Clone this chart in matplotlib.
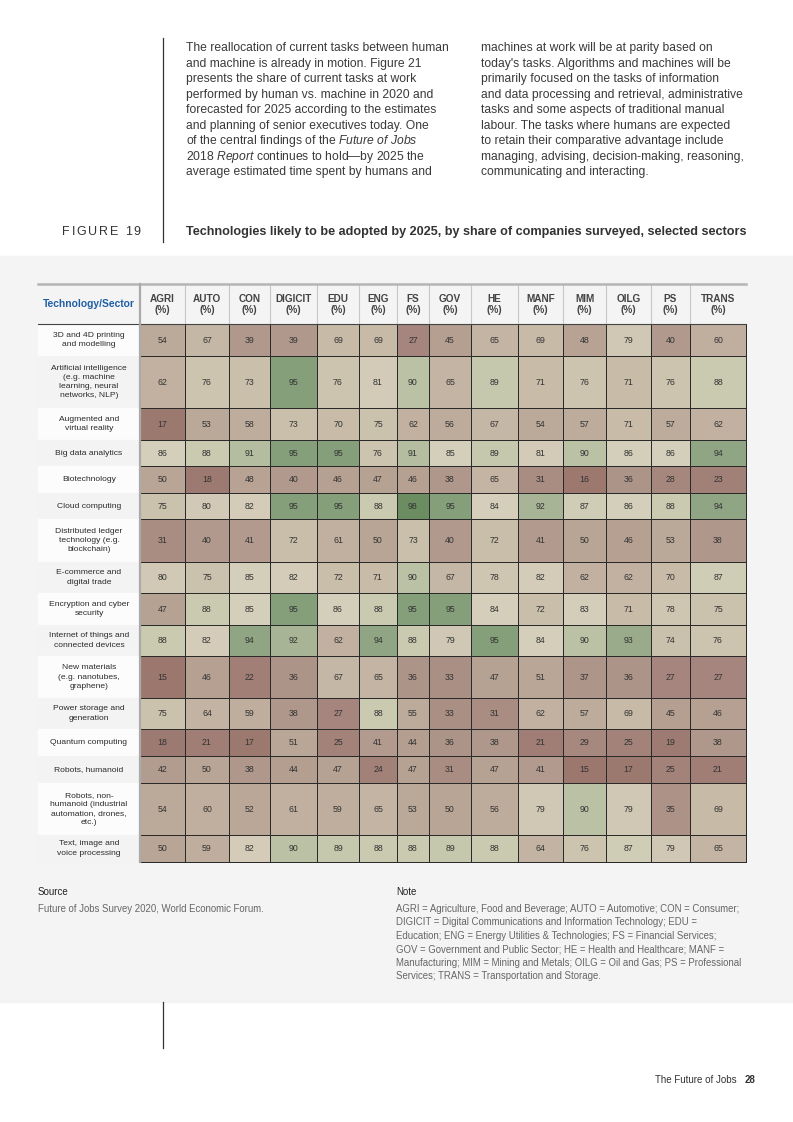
import numpy as np
import matplotlib
matplotlib.use("Agg")
import matplotlib.pyplot as plt
from matplotlib.colors import LinearSegmentedColormap, Normalize

plt.rcParams['font.family'] = ['Liberation Sans', 'DejaVu Sans']
plt.rcParams['mathtext.fontset'] = 'custom'
plt.rcParams['mathtext.rm'] = 'Liberation Sans'
plt.rcParams['mathtext.it'] = 'Liberation Sans:italic'

# ---------------- data ----------------
sectors = ["AGRI", "AUTO", "CON", "DIGICIT", "EDU", "ENG", "FS", "GOV",
           "HE", "MANF", "MIM", "OILG", "PS", "TRANS"]
technologies = [
    "3D and 4D printing\nand modelling",
    "Artificial intelligence\n(e.g. machine\nlearning, neural\nnetworks, NLP)",
    "Augmented and\nvirtual reality",
    "Big data analytics",
    "Biotechnology",
    "Cloud computing",
    "Distributed ledger\ntechnology (e.g.\nblockchain)",
    "E-commerce and\ndigital trade",
    "Encryption and cyber\nsecurity",
    "Internet of things and\nconnected devices",
    "New materials\n(e.g. nanotubes,\ngraphene)",
    "Power storage and\ngeneration",
    "Quantum computing",
    "Robots, humanoid",
    "Robots, non-\nhumanoid (industrial\nautomation, drones,\netc.)",
    "Text, image and\nvoice processing",
]
printing_3d = [54, 67, 39, 39, 69, 69, 27, 45, 65, 69, 48, 79, 40, 60]
artificial_intelligence = [62, 76, 73, 95, 76, 81, 90, 65, 89, 71, 76, 71, 76, 88]
augmented_reality = [17, 53, 58, 73, 70, 75, 62, 56, 67, 54, 57, 71, 57, 62]
big_data = [86, 88, 91, 95, 95, 76, 91, 85, 89, 81, 90, 86, 86, 94]
biotechnology = [50, 18, 48, 40, 46, 47, 46, 38, 65, 31, 16, 36, 28, 23]
cloud_computing = [75, 80, 82, 95, 95, 88, 98, 95, 84, 92, 87, 86, 88, 94]
distributed_ledger = [31, 40, 41, 72, 61, 50, 73, 40, 72, 41, 50, 46, 53, 38]
e_commerce = [80, 75, 85, 82, 72, 71, 90, 67, 78, 82, 62, 62, 70, 87]
encryption = [47, 88, 85, 95, 86, 88, 95, 95, 84, 72, 83, 71, 78, 75]
internet_of_things = [88, 82, 94, 92, 62, 94, 88, 79, 95, 84, 90, 93, 74, 76]
new_materials = [15, 46, 22, 36, 67, 65, 36, 33, 47, 51, 37, 36, 27, 27]
power_storage = [75, 64, 59, 38, 27, 88, 55, 33, 31, 62, 57, 69, 45, 46]
quantum_computing = [18, 21, 17, 51, 25, 41, 44, 36, 38, 21, 29, 25, 19, 38]
robots_humanoid = [42, 50, 38, 44, 47, 24, 47, 31, 47, 41, 15, 17, 25, 21]
robots_non_humanoid = [54, 60, 52, 61, 59, 65, 53, 50, 56, 79, 90, 79, 35, 69]
text_voice = [50, 59, 82, 90, 89, 88, 88, 89, 88, 64, 76, 87, 79, 65]

values = np.array([printing_3d, artificial_intelligence, augmented_reality, big_data,
                   biotechnology, cloud_computing, distributed_ledger, e_commerce,
                   encryption, internet_of_things, new_materials, power_storage,
                   quantum_computing, robots_humanoid, robots_non_humanoid, text_voice])

# ---------------- layout (pixels) ----------------
W, H = 793, 1122
col_widths = [45, 44, 41, 47, 42, 38, 32, 42, 47, 45, 43, 45, 39, 56]
row_heights = [32, 52, 32, 26, 27, 26, 43, 31, 32, 31, 42, 31, 27, 27, 52, 27]
tab_left, lab_right, head_top, head_bot = 38, 140, 284, 324
xedges = lab_right + np.concatenate([[0], np.cumsum(col_widths)])
yedges = head_bot + np.concatenate([[0], np.cumsum(row_heights)])

fig = plt.figure(figsize=(W / 100, H / 100), dpi=100)
ax = fig.add_axes([0, 0, 1, 1])
ax.set_xlim(0, W)
ax.set_ylim(H, 0)
ax.axis('off')
renderer = fig.canvas.get_renderer()

# grey panel
ax.add_patch(plt.Rectangle((0, 256), W, 746, color='#f4f4f4', zorder=0))

# vertical rules
ax.plot([163, 163], [38, 242], color='#333333', lw=0.9)
ax.plot([163, 163], [1002, 1048], color='#333333', lw=0.9)

# body text
col1 = [
    "The reallocation of current tasks between human",
    "and machine is already in motion. Figure 21",
    "presents the share of current tasks at work",
    "performed by human vs. machine in 2020 and",
    "forecasted for 2025 according to the estimates",
    "and planning of senior executives today. One",
    r"of the central findings of the $\it{Future\ of\ Jobs}$",
    r"$\it{2018\ Report}$ continues to hold—by 2025 the",
    "average estimated time spent by humans and",
]
col2 = [
    "machines at work will be at parity based on",
    "today's tasks. Algorithms and machines will be",
    "primarily focused on the tasks of information",
    "and data processing and retrieval, administrative",
    "tasks and some aspects of traditional manual",
    "labour. The tasks where humans are expected",
    "to retain their comparative advantage include",
    "managing, advising, decision-making, reasoning,",
    "communicating and interacting.",
]
for i, (a, b) in enumerate(zip(col1, col2)):
    y = 48 + i * 15.5
    ax.text(186, y, a, fontsize=8.75, color='#3a3a3a', va='center', ha='left')
    ax.text(481, y, b, fontsize=8.75, color='#3a3a3a', va='center', ha='left')

# tracked "FIGURE 19"
x = 62.0
for ch in "FIGURE 19":
    t = ax.text(x, 232, ch, fontsize=9, color='#333333', va='center', ha='left')
    bb = t.get_window_extent(renderer=renderer)
    x += bb.width + 1.8 if ch != ' ' else 3.0 + 1.8

ax.text(186, 232, "Technologies likely to be adopted by 2025, by share of companies surveyed, selected sectors",
        fontsize=9.14, fontweight='bold', color='#333333', va='center', ha='left')

# label column backgrounds
for i in range(len(technologies)):
    c = '#fcfcfc' if i % 2 == 0 else '#f3f3f3'
    ax.add_patch(plt.Rectangle((tab_left, yedges[i]), lab_right - tab_left,
                               yedges[i + 1] - yedges[i], color=c, zorder=1))
    ax.text((tab_left + lab_right) / 2, (yedges[i] + yedges[i + 1]) / 2, technologies[i],
            fontsize=6.1, color='#2b2b2b', ha='center', va='center', linespacing=1.45, zorder=3)

# heatmap
cmap = LinearSegmentedColormap.from_list("wef", [
    (0.00, '#98746a'), (0.15, '#9b776d'), (0.25, '#a3827a'), (0.40, '#b19a8d'),
    (0.55, '#bcaa9a'), (0.65, '#c4b4a3'), (0.75, '#cbc2ad'), (0.82, '#d4ccb8'),
    (0.86, '#d4d0bb'), (0.89, '#c6c8ae'), (0.91, '#b4bd9f'), (0.94, '#91a685'),
    (0.95, '#87a17c'), (0.98, '#6c8d62'), (1.00, '#628558')])
norm = Normalize(0, 100)
ax.pcolormesh(xedges, yedges, values, cmap=cmap, norm=norm,
              edgecolors='#2a2a2a', linewidth=0.45, zorder=2)
for i in range(values.shape[0]):
    for j in range(values.shape[1]):
        ax.text((xedges[j] + xedges[j + 1]) / 2, (yedges[i] + yedges[i + 1]) / 2,
                f"{values[i, j]}", fontsize=6.3, color='#333333', ha='center', va='center', zorder=3)

# header
ax.add_patch(plt.Rectangle((tab_left, head_top), xedges[-1] - tab_left, head_bot - head_top,
                           color='#f4f4f4', zorder=1))
ax.text((tab_left + lab_right) / 2, 304, "Technology/Sector", fontsize=7.4, fontweight='bold',
        color='#1f5fa6', ha='center', va='center', zorder=3)
for j, s in enumerate(sectors):
    xc = (xedges[j] + xedges[j + 1]) / 2
    ax.text(xc, 299, s, fontsize=7.2, fontweight='bold', color='#444444', ha='center', va='center', zorder=3)
    ax.text(xc, 309.5, "(%)", fontsize=7.2, fontweight='bold', color='#444444', ha='center', va='center', zorder=3)
for x in xedges[1:-1]:
    ax.plot([x, x], [head_top, head_bot], color='#c8c8c8', lw=0.8, zorder=3)
ax.plot([tab_left, xedges[-1]], [head_top, head_top], color='#b5b5b5', lw=1.8, zorder=3)
ax.plot([tab_left, xedges[-1]], [head_bot, head_bot], color='#444444', lw=0.8, zorder=3)
ax.plot([lab_right, lab_right], [head_top, yedges[-1]], color='#aaaaaa', lw=1.6, zorder=4)

# source / note
ax.text(38, 892, "Source", fontsize=7.0, color='#222222', va='center')
ax.text(38, 909, "Future of Jobs Survey 2020, World Economic Forum.", fontsize=6.95, color='#666666', va='center')
ax.text(396, 892, "Note", fontsize=7.0, color='#222222', va='center')
note = [
    "AGRI = Agriculture, Food and Beverage; AUTO = Automotive; CON = Consumer;",
    "DIGICIT = Digital Communications and Information Technology; EDU =",
    "Education; ENG = Energy Utilities & Technologies; FS = Financial Services;",
    "GOV = Government and Public Sector; HE = Health and Healthcare; MANF =",
    "Manufacturing; MIM = Mining and Metals; OILG = Oil and Gas; PS = Professional",
    "Services; TRANS = Transportation and Storage.",
]
for k, line in enumerate(note):
    ax.text(396, 909 + k * 13.4, line, fontsize=6.95, color='#666666', va='center')

# footer
ax.text(737, 1080, "The Future of Jobs", fontsize=7.0, color='#333333', va='center', ha='right')
ax.text(745, 1080, "28", fontsize=7.0, fontweight='bold', color='#333333', va='center', ha='left')

fig.savefig("out.png", dpi=100, facecolor='white')
